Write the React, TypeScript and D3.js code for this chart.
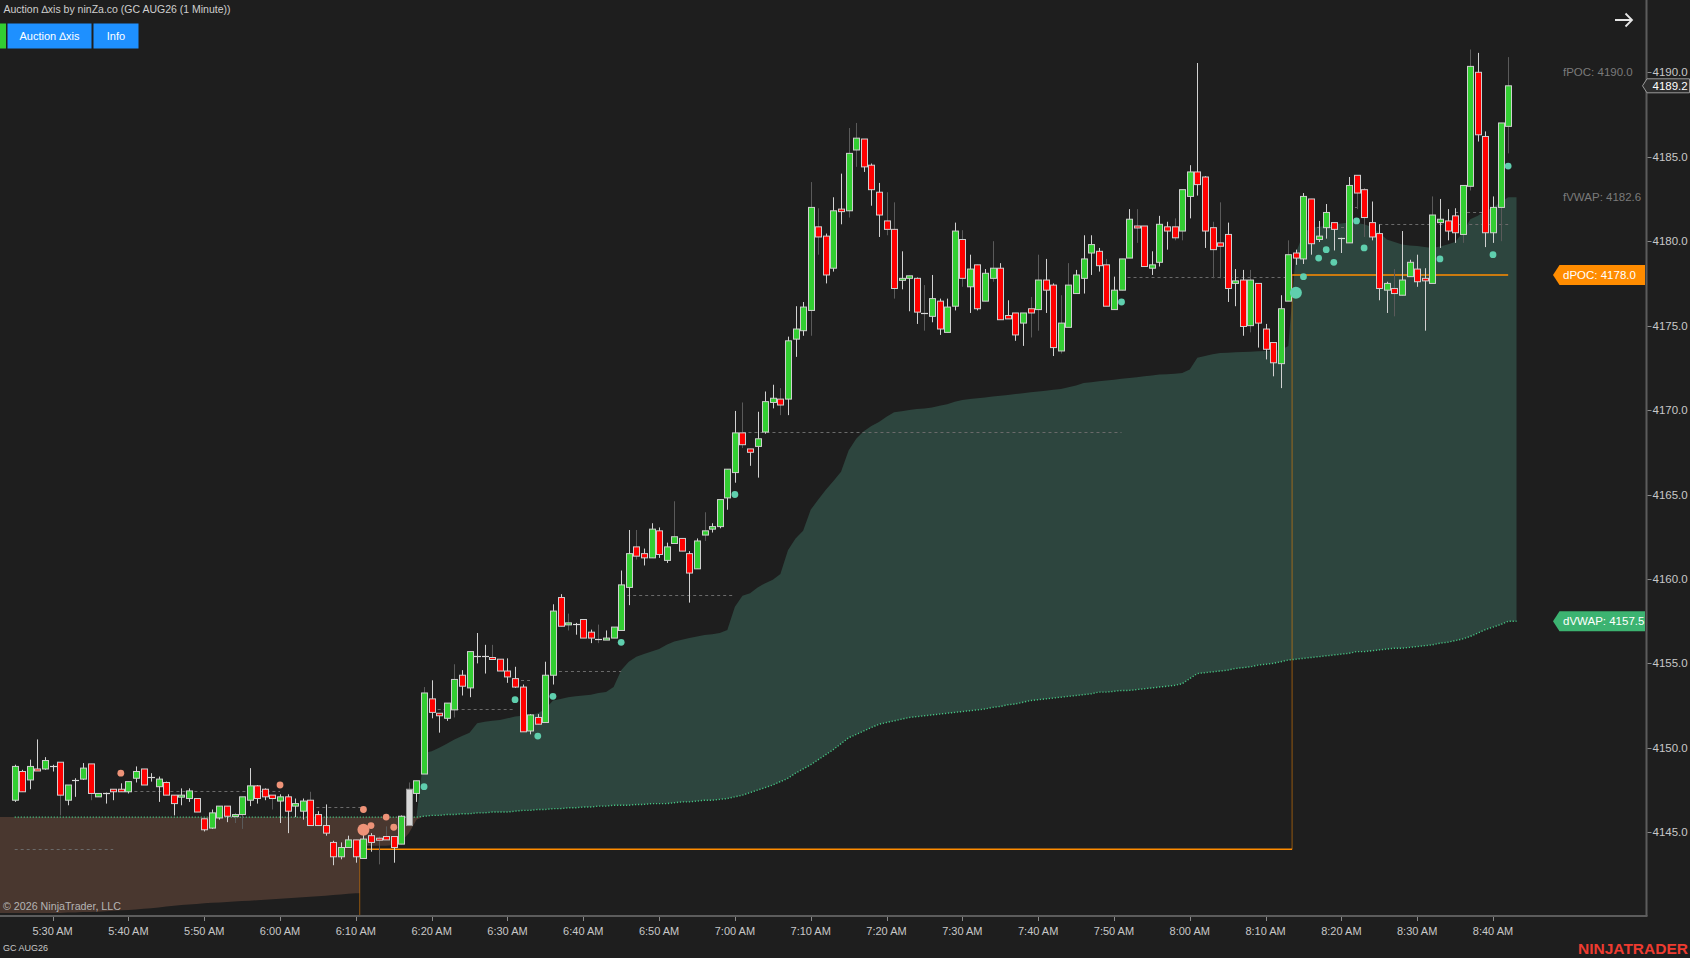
import React from "react";
import * as d3 from "d3";

// ---------- DATA (GC AUG26, 1-minute bars starting 5:25 AM) ----------
const sessionStart = { hour: 5, minute: 25 };

const barOpen = [
  4146.9, 4148.6, 4148.1, 4148.75, 4148.75, 4148.9, 4149.15, 4146.9, 4148.1, 4148.15,
  4149.05, 4147.1, 4147.3, 4147.55, 4147.55, 4147.4, 4148.2, 4148.75, 4148.3, 4147.7,
  4147.95, 4147.2, 4147.1, 4147.0, 4147.0, 4145.8, 4145.25, 4145.85, 4146.55, 4145.95,
  4146.05, 4146.9, 4147.75, 4147.55, 4147.2, 4146.85, 4147.1, 4146.55, 4146.25, 4146.9,
  4146.05, 4145.4, 4144.4, 4143.55, 4144.1, 4144.55, 4143.45, 4144.8, 4144.65, 4144.75,
  4144.75, 4144.3, 4145.4, 4147.3, 4148.45, 4152.9, 4152.05, 4151.75, 4152.25, 4154.3,
  4153.55, 4155.45, 4155.45, 4155.35, 4155.25, 4154.55, 4154.1, 4153.6, 4151.0, 4151.8,
  4151.5, 4154.3, 4158.9, 4157.3, 4157.35, 4157.6, 4156.85, 4156.45, 4156.45, 4156.5,
  4156.95, 4159.5, 4161.9, 4161.5, 4161.25, 4162.85, 4161.1, 4162.1, 4162.4, 4161.5,
  4160.6, 4162.6, 4162.95, 4163.1, 4164.8, 4166.3, 4168.65, 4167.7, 4167.85, 4168.7,
  4170.45, 4170.65, 4170.65, 4174.2, 4174.7, 4175.9, 4180.85, 4180.3, 4178.4, 4181.9,
  4181.8, 4185.4, 4186.05, 4184.5, 4182.9, 4181.2, 4180.7, 4177.7, 4177.8, 4177.8,
  4175.75, 4175.55, 4176.45, 4174.6, 4176.15, 4180.1, 4177.3, 4178.6, 4176.45, 4177.8,
  4178.4, 4175.6, 4175.75, 4175.15, 4176.0, 4175.95, 4177.7, 4177.4, 4173.5, 4174.9,
  4176.9, 4177.8, 4179.3, 4179.4, 4178.6, 4175.95, 4177.1, 4179.0, 4180.9, 4180.9,
  4178.4, 4178.75, 4180.85, 4180.85, 4180.6, 4182.65, 4184.1, 4183.8, 4180.8, 4179.9,
  4180.4, 4177.5, 4177.7, 4175.0, 4177.5, 4174.8, 4174.0, 4172.75, 4176.45, 4179.3,
  4178.95, 4182.5, 4180.1, 4180.8, 4181.1, 4180.2, 4179.9, 4183.9, 4183.05, 4181.1,
  4180.45, 4177.1, 4177.2, 4176.8, 4177.9, 4178.35, 4177.8, 4177.5, 4181.1, 4181.2,
  4181.5, 4180.4, 4183.25, 4190.0, 4186.2, 4180.5, 4182.0, 4186.8,
];

const barHigh = [
  4149.0, 4148.7, 4149.3, 4150.5, 4149.45, 4149.0, 4149.15, 4147.8, 4148.2, 4149.1,
  4149.05, 4147.3, 4147.35, 4147.55, 4147.9, 4148.0, 4148.9, 4148.75, 4148.5, 4148.3,
  4148.0, 4147.2, 4147.6, 4147.6, 4147.0, 4145.8, 4146.35, 4146.55, 4146.55, 4146.15,
  4147.1, 4148.8, 4147.8, 4147.6, 4147.2, 4147.25, 4147.25, 4147.0, 4147.0, 4147.4,
  4146.25, 4146.65, 4144.5, 4144.4, 4144.8, 4144.55, 4145.0, 4144.95, 4144.75, 4145.35,
  4144.75, 4146.0, 4147.95, 4148.05, 4153.6, 4154.0, 4152.05, 4152.65, 4154.95, 4154.6,
  4155.7, 4156.8, 4156.1, 4156.1, 4155.25, 4155.3, 4154.8, 4153.75, 4152.0, 4152.0,
  4155.1, 4158.5, 4159.1, 4157.95, 4157.4, 4157.6, 4157.0, 4157.3, 4156.95, 4157.15,
  4160.5, 4162.9, 4162.9, 4161.8, 4163.3, 4163.05, 4162.15, 4164.6, 4162.4, 4161.65,
  4162.4, 4163.95, 4163.3, 4164.7, 4166.5, 4169.95, 4170.45, 4167.7, 4169.9, 4171.1,
  4171.5, 4171.3, 4174.35, 4176.15, 4176.4, 4183.5, 4181.95, 4180.45, 4182.6, 4184.0,
  4186.7, 4187.0, 4186.05, 4184.6, 4183.45, 4182.9, 4182.3, 4179.4, 4177.95, 4177.85,
  4177.4, 4178.0, 4176.6, 4176.6, 4181.1, 4180.65, 4179.2, 4178.6, 4178.35, 4180.0,
  4178.7, 4176.5, 4175.75, 4175.75, 4176.7, 4179.2, 4178.95, 4177.5, 4176.8, 4178.7,
  4178.3, 4180.35, 4180.35, 4179.6, 4178.95, 4177.9, 4178.95, 4181.9, 4181.9, 4180.9,
  4179.4, 4181.5, 4181.15, 4181.35, 4183.05, 4184.5, 4190.55, 4183.85, 4181.15, 4182.3,
  4181.1, 4178.35, 4178.3, 4178.3, 4177.5, 4175.1, 4174.0, 4176.8, 4180.05, 4179.5,
  4182.85, 4182.5, 4181.2, 4182.2, 4181.1, 4180.2, 4183.8, 4183.9, 4183.15, 4182.35,
  4181.0, 4177.6, 4178.35, 4180.6, 4178.9, 4179.2, 4178.4, 4182.65, 4182.5, 4181.9,
  4181.95, 4183.3, 4191.35, 4191.15, 4186.5, 4182.65, 4187.0, 4190.9,
];

const barLow = [
  4146.8, 4147.4, 4147.55, 4148.7, 4148.7, 4148.6, 4146.0, 4146.6, 4147.1, 4148.1,
  4146.9, 4147.1, 4146.7, 4146.9, 4147.4, 4147.3, 4147.95, 4147.8, 4148.0, 4146.8,
  4147.2, 4146.0, 4146.6, 4146.8, 4146.2, 4145.05, 4145.2, 4145.75, 4145.6, 4145.55,
  4145.2, 4146.55, 4146.7, 4146.9, 4146.35, 4145.55, 4144.95, 4145.9, 4145.75, 4145.4,
  4145.4, 4144.8, 4143.05, 4143.4, 4144.1, 4143.2, 4143.45, 4143.85, 4143.1, 4144.55,
  4143.2, 4144.3, 4145.4, 4146.8, 4148.45, 4151.75, 4150.9, 4151.6, 4151.8, 4153.1,
  4153.0, 4155.0, 4154.4, 4155.2, 4154.55, 4153.85, 4153.55, 4150.95, 4150.8, 4151.4,
  4151.5, 4153.75, 4157.2, 4156.95, 4156.7, 4156.5, 4156.2, 4156.2, 4156.45, 4156.5,
  4156.95, 4158.45, 4161.15, 4160.8, 4161.25, 4161.25, 4160.95, 4162.1, 4161.65, 4158.6,
  4160.6, 4162.25, 4162.75, 4163.0, 4164.1, 4165.7, 4167.75, 4166.7, 4166.0, 4168.6,
  4170.1, 4169.7, 4169.7, 4173.15, 4174.4, 4174.4, 4179.2, 4177.5, 4178.2, 4181.0,
  4181.4, 4184.4, 4184.1, 4182.1, 4180.25, 4180.35, 4176.6, 4177.15, 4175.85, 4175.1,
  4174.7, 4175.2, 4174.45, 4174.6, 4175.9, 4177.3, 4175.75, 4175.9, 4176.45, 4177.6,
  4175.35, 4175.4, 4174.1, 4173.8, 4174.3, 4174.7, 4175.75, 4173.2, 4173.35, 4174.9,
  4176.9, 4176.9, 4178.0, 4178.2, 4176.15, 4175.95, 4177.1, 4179.0, 4179.9, 4178.5,
  4178.0, 4178.5, 4179.5, 4180.05, 4180.05, 4181.35, 4182.7, 4179.6, 4177.8, 4177.8,
  4176.4, 4176.15, 4174.4, 4174.6, 4173.7, 4173.0, 4172.0, 4171.3, 4176.45, 4178.6,
  4178.65, 4179.2, 4179.95, 4180.15, 4179.45, 4179.3, 4179.9, 4181.9, 4180.25, 4180.05,
  4176.5, 4175.75, 4175.55, 4176.8, 4177.9, 4177.3, 4174.7, 4177.5, 4179.6, 4180.05,
  4179.9, 4179.9, 4183.0, 4185.9, 4179.65, 4179.9, 4180.0, 4185.2,
];

const barClose = [
  4148.9, 4147.4, 4148.9, 4148.7, 4149.25, 4148.9, 4147.2, 4147.8, 4148.1, 4148.8,
  4147.3, 4147.3, 4147.3, 4147.4, 4147.4, 4148.0, 4148.6, 4147.8, 4148.3, 4148.15,
  4147.2, 4146.7, 4147.2, 4147.45, 4146.2, 4145.15, 4146.15, 4146.55, 4145.95, 4146.05,
  4147.1, 4147.75, 4147.0, 4147.1, 4147.0, 4147.1, 4146.25, 4146.7, 4146.85, 4145.4,
  4145.4, 4144.95, 4143.55, 4144.1, 4144.55, 4143.55, 4144.6, 4144.4, 4144.55, 4144.55,
  4144.1, 4145.95, 4147.55, 4148.05, 4153.25, 4152.1, 4151.9, 4152.65, 4154.05, 4153.65,
  4155.7, 4155.45, 4155.45, 4155.25, 4154.55, 4154.2, 4153.6, 4150.95, 4151.95, 4151.4,
  4154.3, 4158.1, 4157.2, 4157.4, 4157.35, 4156.5, 4156.5, 4156.45, 4156.5, 4157.15,
  4159.65, 4161.5, 4161.35, 4161.25, 4162.95, 4161.45, 4161.9, 4162.5, 4161.65, 4160.35,
  4162.25, 4162.85, 4163.1, 4164.7, 4166.5, 4168.65, 4167.95, 4167.5, 4168.3, 4170.5,
  4170.7, 4170.3, 4174.1, 4174.8, 4176.1, 4182.0, 4180.25, 4178.0, 4181.8, 4181.75,
  4185.2, 4186.1, 4184.4, 4183.05, 4181.55, 4180.7, 4177.2, 4177.8, 4177.95, 4175.8,
  4175.75, 4176.6, 4174.8, 4176.1, 4180.6, 4177.8, 4178.35, 4176.0, 4178.1, 4178.4,
  4175.35, 4175.4, 4174.45, 4175.75, 4175.75, 4177.7, 4177.1, 4173.7, 4175.15, 4177.4,
  4178.0, 4178.95, 4179.8, 4178.55, 4176.15, 4177.1, 4178.95, 4181.3, 4180.8, 4178.5,
  4178.6, 4181.0, 4180.6, 4180.2, 4183.05, 4184.1, 4183.35, 4180.6, 4179.5, 4179.7,
  4177.2, 4177.65, 4174.95, 4177.7, 4175.15, 4173.6, 4172.8, 4176.0, 4179.2, 4179.0,
  4182.65, 4179.85, 4180.3, 4181.7, 4180.7, 4180.2, 4183.3, 4182.85, 4181.4, 4180.25,
  4177.2, 4177.5, 4176.9, 4177.7, 4178.75, 4177.6, 4177.65, 4181.55, 4181.3, 4180.6,
  4180.5, 4183.3, 4190.35, 4186.3, 4180.5, 4182.0, 4187.0, 4189.2,
];

// bars whose wicks are drawn dimmed (low-volume bars)
const lowVolumeBars = [
  6, 10, 29, 30, 34, 39, 48, 49, 52, 54, 58, 63, 73, 77, 82, 87, 91, 96, 101, 105, 106,
  110, 111, 115, 116, 120, 125, 129, 134, 135, 138, 139, 144, 148, 153, 154, 158, 159,
  163, 168, 177, 178, 182, 187, 191, 192, 196, 197,
];
const signalBar = 52;

// daily VWAP (dVWAP), per bar
const dVWAP = [
  4145.9, 4145.9, 4145.9, 4145.9, 4145.9, 4145.9, 4145.9, 4145.9, 4145.9, 4145.9,
  4145.9, 4145.9, 4145.9, 4145.9, 4145.9, 4145.9, 4145.9, 4145.9, 4145.9, 4145.9,
  4145.9, 4145.9, 4145.9, 4145.9, 4145.9, 4145.9, 4145.9, 4145.9, 4145.9, 4145.9,
  4145.9, 4145.9, 4145.9, 4145.9, 4145.9, 4145.9, 4145.9, 4145.9, 4145.9, 4145.9,
  4145.9, 4145.9, 4145.9, 4145.9, 4145.9, 4145.9, 4145.9, 4145.9, 4145.9, 4145.9,
  4145.9, 4145.9, 4145.9, 4145.9, 4145.95, 4146.0, 4146.0, 4146.05, 4146.05, 4146.1,
  4146.1, 4146.15, 4146.15, 4146.2, 4146.2, 4146.2, 4146.25, 4146.3, 4146.3, 4146.35,
  4146.35, 4146.4, 4146.4, 4146.45, 4146.45, 4146.5, 4146.5, 4146.55, 4146.55, 4146.6,
  4146.6, 4146.6, 4146.65, 4146.65, 4146.7, 4146.7, 4146.7, 4146.75, 4146.8, 4146.8,
  4146.85, 4146.9, 4146.9, 4146.95, 4147.0, 4147.1, 4147.2, 4147.35, 4147.5, 4147.65,
  4147.8, 4148.0, 4148.2, 4148.5, 4148.75, 4149.0, 4149.3, 4149.6, 4149.9, 4150.25,
  4150.6, 4150.8, 4151.0, 4151.2, 4151.4, 4151.5, 4151.6, 4151.7, 4151.8, 4151.85,
  4151.9, 4151.95, 4152.0, 4152.05, 4152.1, 4152.15, 4152.2, 4152.25, 4152.3, 4152.4,
  4152.45, 4152.55, 4152.6, 4152.7, 4152.8, 4152.85, 4152.9, 4152.95, 4153.0, 4153.05,
  4153.1, 4153.15, 4153.2, 4153.3, 4153.3, 4153.35, 4153.4, 4153.4, 4153.45, 4153.5,
  4153.55, 4153.6, 4153.65, 4153.7, 4153.8, 4154.1, 4154.4, 4154.45, 4154.5, 4154.55,
  4154.6, 4154.7, 4154.75, 4154.8, 4154.9, 4154.95, 4155.0, 4155.1, 4155.2, 4155.25,
  4155.3, 4155.35, 4155.4, 4155.45, 4155.5, 4155.55, 4155.6, 4155.7, 4155.7, 4155.75,
  4155.8, 4155.85, 4155.9, 4155.9, 4155.95, 4156.0, 4156.05, 4156.1, 4156.2, 4156.25,
  4156.35, 4156.45, 4156.6, 4156.8, 4157.0, 4157.15, 4157.3, 4157.5,
];

// anchored "focus" VWAP (fVWAP), per bar — re-anchored at 6:11 and 8:13
const fVWAP = [
  4140.22, 4140.22, 4140.22, 4140.22, 4140.22, 4140.22, 4140.22, 4140.25, 4140.25, 4140.28,
  4140.28, 4140.3, 4140.33, 4140.35, 4140.38, 4140.4, 4140.43, 4140.47, 4140.5, 4140.55,
  4140.6, 4140.65, 4140.7, 4140.73, 4140.76, 4140.8, 4140.83, 4140.85, 4140.88, 4140.9,
  4140.93, 4140.95, 4140.98, 4141.0, 4141.03, 4141.06, 4141.09, 4141.12, 4141.15, 4141.18,
  4141.21, 4141.25, 4141.29, 4141.32, 4141.36, 4141.39, 4144.2, 4144.2, 4144.2, 4144.2,
  4144.25, 4144.45, 4144.95, 4145.75, 4149.7, 4149.8, 4150.0, 4150.25, 4150.5, 4150.7,
  4150.9, 4151.45, 4151.55, 4151.6, 4151.65, 4151.75, 4151.85, 4151.9, 4151.95, 4152.05,
  4152.3, 4152.8, 4152.9, 4153.0, 4153.05, 4153.1, 4153.15, 4153.25, 4153.3, 4153.6,
  4154.6, 4155.1, 4155.4, 4155.55, 4155.7, 4155.85, 4156.1, 4156.3, 4156.4, 4156.5,
  4156.6, 4156.68, 4156.72, 4156.8, 4156.98, 4158.36, 4159.0, 4159.15, 4159.5, 4159.75,
  4159.95, 4160.3, 4161.7, 4162.4, 4162.85, 4164.1, 4164.7, 4165.28, 4165.8, 4166.35,
  4167.6, 4168.3, 4168.75, 4169.05, 4169.3, 4169.6, 4169.87, 4169.93, 4170.0, 4170.06,
  4170.1, 4170.15, 4170.25, 4170.35, 4170.5, 4170.6, 4170.65, 4170.7, 4170.75, 4170.8,
  4170.85, 4170.9, 4170.95, 4171.0, 4171.05, 4171.1, 4171.15, 4171.2, 4171.25, 4171.35,
  4171.45, 4171.6, 4171.65, 4171.7, 4171.75, 4171.8, 4171.85, 4171.9, 4171.95, 4172.0,
  4172.05, 4172.1, 4172.12, 4172.15, 4172.2, 4172.4, 4173.1, 4173.2, 4173.3, 4173.38,
  4173.4, 4173.42, 4173.44, 4173.45, 4173.48, 4173.5, 4173.53, 4173.56, 4173.8, 4179.3,
  4180.5, 4180.78, 4180.85, 4180.9, 4181.0, 4181.05, 4181.1, 4181.08, 4181.0, 4180.84,
  4180.5, 4180.1, 4179.95, 4179.8, 4179.75, 4179.72, 4179.65, 4179.6, 4179.68, 4179.8,
  4179.95, 4180.5, 4181.3, 4181.5, 4181.8, 4182.0, 4182.3, 4182.6,
];
const fVWAPResetBar = 46;

// developing POC levels (bar ranges)
const dPOCLevels = [
  { from: 0, to: 45, price: 4138.5 },
  { from: 46, to: 168, price: 4144.0 },
  { from: 169, to: 197, price: 4178.0 },
];

// naked bar-POC lines
const nakedPOCs = [
  { from: 0, to: 13, price: 4144.03 },
  { from: 15, to: 35, price: 4147.45 },
  { from: 39, to: 46, price: 4146.52 },
  { from: 55, to: 66, price: 4152.28 },
  { from: 66, to: 68, price: 4154.0 },
  { from: 71, to: 80, price: 4154.55 },
  { from: 80, to: 95, price: 4159.05 },
  { from: 96, to: 146, price: 4168.69 },
  { from: 146, to: 168, price: 4177.85 },
  { from: 171, to: 176, price: 4180.84 },
  { from: 176, to: 178, price: 4182.0 },
  { from: 180, to: 197, price: 4181.02 },
  { from: 190, to: 194, price: 4181.7 },
];

// absorption dots
const buyDots = [
  { bar: 54, price: 4147.7, strong: false },
  { bar: 66, price: 4152.85, strong: false },
  { bar: 69, price: 4150.7, strong: false },
  { bar: 71, price: 4153.05, strong: false },
  { bar: 80, price: 4156.25, strong: false },
  { bar: 95, price: 4165.0, strong: false },
  { bar: 146, price: 4176.4, strong: false },
  { bar: 169, price: 4176.95, strong: true },
  { bar: 170, price: 4177.9, strong: false },
  { bar: 172, price: 4179.0, strong: false },
  { bar: 173, price: 4179.5, strong: false },
  { bar: 174, price: 4178.75, strong: false },
  { bar: 177, price: 4181.2, strong: false },
  { bar: 178, price: 4179.6, strong: false },
  { bar: 188, price: 4178.95, strong: false },
  { bar: 195, price: 4179.2, strong: false },
  { bar: 197, price: 4184.45, strong: false },
];
const sellDots = [
  { bar: 14, price: 4148.5, strong: false },
  { bar: 35, price: 4147.8, strong: false },
  { bar: 46, price: 4146.35, strong: false },
  { bar: 46, price: 4145.15, strong: true },
  { bar: 47, price: 4145.4, strong: false },
  { bar: 49, price: 4145.9, strong: false },
  { bar: 50, price: 4145.3, strong: false },
];

const priceTicks = [4145, 4150, 4155, 4160, 4165, 4170, 4175, 4180, 4185, 4190];
const lastPrice = 4189.2;
const fPOC = 4190.0;
const fVWAPLast = 4182.6;
const dPOCLast = 4178.0;
const dVWAPLast = 4157.5;

const titleText = "Auction \u2206xis by ninZa.co (GC AUG26 (1 Minute))";
const instrument = "GC AUG26";

// ---------- DRAWING ----------
const W = 1690;
const H = 958;
const PLOT_R = 1646.5;
const PLOT_B = 916;
const FONT = '"Liberation Sans", Arial, Helvetica, sans-serif';

const BG = "#1e1e1e";
const GREEN_FILL = "#2d453e";
const BROWN_FILL = "#49372f";
const UP = "#32cd32";
const DOWN = "#ff0000";
const ORANGE = "#ff8c00";
const DVWAP_C = "#3cb371";

const day = (h: number, m: number) => new Date(2026, 6, 6, h, m);

export default function App() {
  const n = barOpen.length;
  const t0 = day(sessionStart.hour, sessionStart.minute);
  const times = d3.range(n).map((i) => d3.timeMinute.offset(t0, i));

  const x = d3
    .scaleTime()
    .domain([day(5, 30), day(8, 40)])
    .range([52.6, 1493]);
  const y = d3.scaleLinear().domain([4145, 4190]).range([832.3, 72.3]);

  const bx = (i: number) => x(times[i]);
  const step = bx(1) - bx(0);
  const mid = (i: number) => (bx(i) + bx(i - 1)) / 2;

  // fill points (linear, with a hard step where fVWAP is re-anchored)
  type Pt = { x: number; d: number; f: number };
  const full: Pt[] = [{ x: 0, d: dVWAP[0], f: fVWAP[0] }];
  for (let i = 0; i < n; i++) {
    if (i === fVWAPResetBar) {
      full.push({ x: mid(i), d: dVWAP[i - 1], f: fVWAP[i - 1] });
      full.push({ x: mid(i), d: dVWAP[i], f: fVWAP[i] });
    }
    full.push({ x: bx(i), d: dVWAP[i], f: fVWAP[i] });
  }
  full.push({ x: bx(n - 1) + step * 1.1, d: dVWAP[n - 1], f: fVWAP[n - 1] });

  const greenArea = d3
    .area<Pt>()
    .x((p) => p.x)
    .y0((p) => y(p.d))
    .y1((p) => y(Math.max(p.f, p.d)))(full) as string;
  const brownArea = d3
    .area<Pt>()
    .x((p) => p.x)
    .y0((p) => y(Math.min(p.f, p.d)))
    .y1((p) => y(p.d))(full) as string;
  const dvwapLine = d3
    .line<Pt>()
    .x((p) => p.x)
    .y((p) => y(p.d))(full.slice(1)) as string;

  // dPOC segments
  const pocH = dPOCLevels.map((s) => ({
    x1: s.from === 0 ? 0 : mid(s.from),
    x2: s.to === n - 1 ? bx(n - 1) : mid(s.to + 1),
    y: y(s.price),
  }));
  const pocV = dPOCLevels.slice(1).map((s, k) => ({
    x: mid(s.from),
    y1: y(dPOCLevels[k].price),
    y2: y(s.price),
  }));

  const timeTicks = d3.timeMinute.every(10)!.range(day(5, 30), day(8, 41));
  const fmtTime = d3.timeFormat("%-I:%M %p");
  const dimSet = new Set(lowVolumeBars);

  const labelBox = (cy: number, color: string, text: string) => (
    <g>
      <path
        d={`M1553,${cy} L1559.5,${cy - 10} L1645,${cy - 10} L1645,${cy + 10} L1559.5,${cy + 10} Z`}
        fill={color}
      />
      <text x={1563} y={cy + 4} fill="#ffffff" fontSize={11.5} fontFamily={FONT}>
        {text}
      </text>
    </g>
  );

  return (
    <svg
      width={W}
      height={H}
      style={{ position: "absolute", left: 0, top: 0, display: "block" }}
    >
      <defs>
        <clipPath id="plot">
          <rect x={0} y={0} width={PLOT_R} height={PLOT_B} />
        </clipPath>
      </defs>
      <rect x={0} y={0} width={W} height={H} fill={BG} />

      <g clipPath="url(#plot)">
        <path d={brownArea} fill={BROWN_FILL} />
        <path d={greenArea} fill={GREEN_FILL} />

        {pocV.map((v, k) => (
          <line
            key={"pv" + k}
            x1={v.x}
            x2={v.x}
            y1={v.y1}
            y2={v.y2}
            stroke={ORANGE}
            strokeOpacity={0.4}
            strokeWidth={1.3}
          />
        ))}

        {nakedPOCs.map((p, k) => (
          <line
            key={"np" + k}
            x1={bx(p.from)}
            x2={bx(p.to)}
            y1={Math.round(y(p.price)) + 0.5}
            y2={Math.round(y(p.price)) + 0.5}
            stroke="#6a6a6a"
            strokeWidth={1}
            strokeDasharray="3,3"
          />
        ))}

        <path d={dvwapLine} fill="none" stroke="#46c483" strokeWidth={1.4} strokeDasharray="1.2,1.8" />

        {pocH.map((h, k) => (
          <line
            key={"ph" + k}
            x1={h.x1}
            x2={h.x2}
            y1={h.y}
            y2={h.y}
            stroke={ORANGE}
            strokeWidth={1.4}
          />
        ))}

        {d3.range(n).map((i) => {
          const cx = Math.round(bx(i)) + 0.5;
          const o = barOpen[i];
          const c = barClose[i];
          const wickColor = dimSet.has(i) ? "#5a5a5a" : "#d2d2d2";
          const yo = y(o);
          const yc = y(c);
          const top = Math.min(yo, yc);
          const h = Math.abs(yo - yc);
          const doji = Math.abs(o - c) < 0.001;
          const fill = i === signalBar ? "#d8d8d8" : c > o ? UP : DOWN;
          return (
            <g key={"c" + i}>
              <line x1={cx} x2={cx} y1={y(barHigh[i])} y2={y(barLow[i])} stroke={wickColor} strokeWidth={1} />
              {doji ? (
                <line x1={cx - 3.5} x2={cx + 3.5} y1={Math.round(yo) + 0.5} y2={Math.round(yo) + 0.5} stroke="#d8d8d8" strokeWidth={1.2} />
              ) : (
                <rect
                  x={cx - 3}
                  y={top}
                  width={6}
                  height={Math.max(h, 2)}
                  fill={fill}
                  stroke={i === signalBar ? "#9a9a9a" : "#cfcfcf"}
                  strokeWidth={1}
                />
              )}
            </g>
          );
        })}

        {buyDots.map((d, k) => (
          <circle key={"b" + k} cx={bx(d.bar)} cy={y(d.price)} r={d.strong ? 6 : 3.4} fill="#5fcfae" />
        ))}
        {sellDots.map((d, k) => (
          <circle key={"s" + k} cx={bx(d.bar)} cy={y(d.price)} r={d.strong ? 6 : 3.4} fill="#ee9378" />
        ))}
      </g>

      {/* axes */}
      <line x1={0} x2={PLOT_R + 1} y1={PLOT_B} y2={PLOT_B} stroke="#5c5c5c" strokeWidth={2} />
      <line x1={PLOT_R} x2={PLOT_R} y1={0} y2={PLOT_B} stroke="#5c5c5c" strokeWidth={2} />

      {timeTicks.map((t, k) => (
        <g key={"tt" + k}>
          <line x1={Math.round(x(t)) + 0.5} x2={Math.round(x(t)) + 0.5} y1={PLOT_B + 1} y2={PLOT_B + 5} stroke="#8a8a8a" />
          <text x={x(t)} y={935} textAnchor="middle" fill="#c8c8c8" fontSize={11} fontFamily={FONT}>
            {fmtTime(t)}
          </text>
        </g>
      ))}

      {priceTicks.map((p) => (
        <g key={"pt" + p}>
          <line x1={PLOT_R + 1} x2={PLOT_R + 5} y1={Math.round(y(p)) + 0.5} y2={Math.round(y(p)) + 0.5} stroke="#8a8a8a" />
          <text x={1652.5} y={y(p) + 4} fill="#c8c8c8" fontSize={11.5} fontFamily={FONT}>
            {p.toFixed(1)}
          </text>
        </g>
      ))}

      {/* last price marker */}
      <path
        d={`M1642.5,${y(lastPrice)} L1647,${y(lastPrice) - 7} L1689.5,${y(lastPrice) - 7} L1689.5,${y(lastPrice) + 7} L1647,${y(lastPrice) + 7} Z`}
        fill="#2e2e2e"
        stroke="#9a9a9a"
        strokeWidth={1}
      />
      <text x={1652.5} y={y(lastPrice) + 4} fill="#ffffff" fontSize={11.5} fontFamily={FONT}>
        {lastPrice.toFixed(1)}
      </text>

      {/* right-side indicator labels */}
      <text x={1563} y={y(fPOC) + 4} fill="#7a7a7a" fontSize={11.5} fontFamily={FONT}>
        {`fPOC: ${fPOC.toFixed(1)}`}
      </text>
      <text x={1563} y={y(fVWAPLast) + 4} fill="#7a7a7a" fontSize={11.5} fontFamily={FONT}>
        {`fVWAP: ${fVWAPLast.toFixed(1)}`}
      </text>
      {labelBox(y(dPOCLast), ORANGE, `dPOC: ${dPOCLast.toFixed(1)}`)}
      {labelBox(y(dVWAPLast), DVWAP_C, `dVWAP: ${dVWAPLast.toFixed(1)}`)}

      {/* header */}
      <text x={3.5} y={13} fill="#cfcfcf" fontSize={10.5} fontFamily={FONT}>
        {titleText}
      </text>
      <rect x={0} y={23.5} width={6} height={25} fill="#32cd32" />
      <rect x={7.5} y={23.5} width={84} height={25} fill="#1e90ff" />
      <text x={49.5} y={39.5} textAnchor="middle" fill="#ffffff" fontSize={11} fontFamily={FONT}>
        {"Auction \u2206xis"}
      </text>
      <rect x={93.5} y={23.5} width={45} height={25} fill="#1e90ff" />
      <text x={116} y={39.5} textAnchor="middle" fill="#ffffff" fontSize={11} fontFamily={FONT}>
        Info
      </text>

      {/* top-right arrow */}
      <path d="M1615,20 L1632,20 M1625.5,13.5 L1632,20 L1625.5,26.5" fill="none" stroke="#e6e6e6" strokeWidth={1.8} />

      {/* footer */}
      <text x={3} y={910} fill="#b4b4b4" fontSize={10.7} fontFamily={FONT}>
        © 2026 NinjaTrader, LLC
      </text>
      <text x={3} y={951} fill="#c8c8c8" fontSize={9} fontFamily={FONT}>
        {instrument}
      </text>
      <text x={1688} y={953.5} textAnchor="end" fill="#ee3b30" fontSize={15.5} fontWeight="bold" fontFamily={FONT}>
        NINJATRADER
      </text>
    </svg>
  );
}
